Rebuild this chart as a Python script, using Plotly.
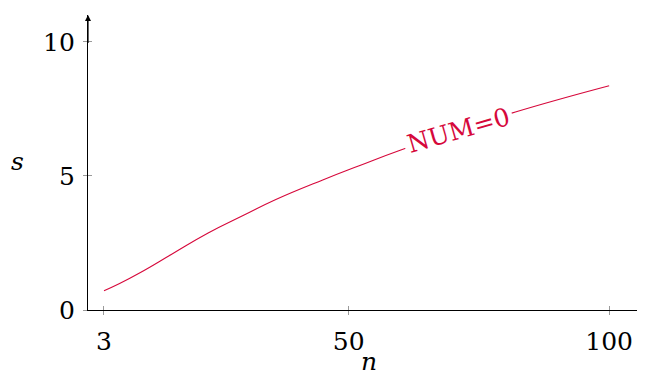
import numpy as np
import plotly.graph_objects as go

n_vals = [3, 6, 10, 16, 23, 30, 36, 45, 52, 60, 70, 82, 100]
s_vals = [0.72, 0.99, 1.40, 2.08, 2.87, 3.55, 4.12, 4.85, 5.38, 5.97, 6.62, 7.38, 8.36]
x_ticks = [3, 50, 100]
y_ticks = [0, 5, 10]
label_text = "NUM=0"
label_n = 71

RED = "#d6083b"
FONT = "DejaVu Serif"
FS = 25

fig = go.Figure()
fig.add_trace(go.Scatter(x=n_vals, y=s_vals, mode="lines",
                         line=dict(color=RED, width=1.1, shape="spline", smoothing=1.3),
                         hoverinfo="skip", showlegend=False))
# overlay trace for cross ticks
fig.add_trace(go.Scatter(x=n_vals, y=s_vals, xaxis="x2", yaxis="y2", mode="lines",
                         line=dict(color="rgba(0,0,0,0)"), hoverinfo="skip", showlegend=False))

xr = [-0.07, 106.5]
yr = [0, 11.0]
common = dict(showgrid=False, zeroline=False, tickcolor="#9a9a9a", ticklen=4,
              tickwidth=1, automargin=False)
fig.update_layout(
    width=637, height=367,
    margin=dict(l=80, r=2, t=7, b=65),
    paper_bgcolor="white", plot_bgcolor="white",
    font=dict(family=FONT, size=FS, color="black"),
    xaxis=dict(range=xr, tickvals=x_ticks, ticks="outside", showline=True,
               linecolor="black", linewidth=1.2, tickfont=dict(family=FONT, size=FS),
               ticklabelstandoff=5, **common),
    yaxis=dict(range=yr, tickvals=y_ticks, ticks="outside", showline=True,
               linecolor="black", linewidth=1.2, tickfont=dict(family=FONT, size=FS),
               ticklabelstandoff=3, **common),
    xaxis2=dict(range=xr, tickvals=x_ticks, ticks="inside", overlaying="x",
                showticklabels=False, showline=False, **common),
    yaxis2=dict(range=yr, tickvals=y_ticks, ticks="inside", overlaying="y",
                showticklabels=False, showline=False, **common),
)

label_s = float(np.interp(label_n, n_vals, s_vals))
fig.add_annotation(x=label_n, y=label_s, text=label_text, showarrow=False,
                   textangle=-16, bgcolor="white", borderpad=3,
                   font=dict(family=FONT, size=25, color=RED))
# y axis arrow
fig.add_annotation(xref="x", yref="y domain", x=xr[0], y=1.0, ax=xr[0], ay=0.9,
                   axref="x", ayref="y domain", showarrow=True, arrowhead=2,
                   arrowsize=1, arrowwidth=1.2, arrowcolor="black", text="")
# axis titles
fig.add_annotation(xref="paper", yref="paper", x=-0.142, y=0.502, text="<i>s</i>",
                   showarrow=False, font=dict(family=FONT, size=FS), yanchor="middle")
fig.add_annotation(xref="paper", yref="paper", x=0.506, y=-0.175, text="<i>n</i>",
                   showarrow=False, font=dict(family=FONT, size=FS), yanchor="middle")

fig.write_html("out.html")
